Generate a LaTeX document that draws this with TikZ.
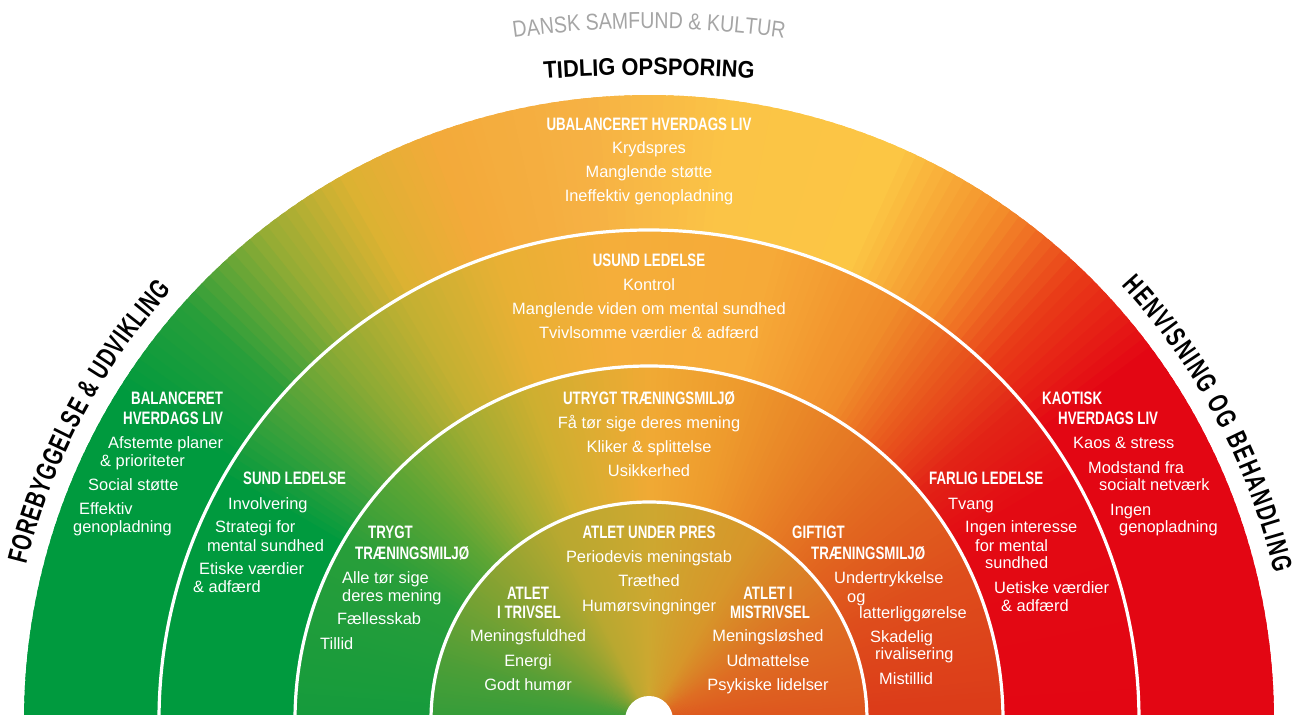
\documentclass[tikz,border=0pt]{standalone}
\usepackage{fontspec}
\setmainfont{Liberation Sans}
\newfontfamily\hdfont{Liberation Sans}[FakeStretch=0.74]
\newfontfamily\ttlfont{Liberation Sans}[FakeStretch=0.91]
\newfontfamily\grfont{Liberation Sans}[FakeStretch=0.85]
\newfontfamily\sdfont{Liberation Sans}[FakeStretch=0.70]
\usetikzlibrary{calc,decorations.text}
% outer band
\definecolor{oa}{RGB}{227,6,19}
\definecolor{ob}{RGB}{227,6,19}
\definecolor{oc}{RGB}{233,60,24}
\definecolor{od}{RGB}{243,140,42}
\definecolor{oe}{RGB}{252,198,68}
\definecolor{of}{RGB}{251,196,70}
\definecolor{og}{RGB}{246,177,68}
\definecolor{oh}{RGB}{243,170,58}
\definecolor{oi}{RGB}{220,178,50}
\definecolor{oj}{RGB}{150,172,52}
\definecolor{ok}{RGB}{40,158,58}
\definecolor{ol}{RGB}{0,154,62}
\definecolor{om}{RGB}{0,154,62}
% middle band
\definecolor{ma}{RGB}{227,6,19}
\definecolor{mb}{RGB}{227,10,19}
\definecolor{mc}{RGB}{226,35,22}
\definecolor{md}{RGB}{233,90,30}
\definecolor{me}{RGB}{240,140,42}
\definecolor{mf}{RGB}{246,170,56}
\definecolor{mg}{RGB}{245,174,58}
\definecolor{mh}{RGB}{232,176,52}
\definecolor{mi}{RGB}{195,176,50}
\definecolor{mj}{RGB}{140,170,52}
\definecolor{mk}{RGB}{70,162,58}
\definecolor{ml}{RGB}{0,154,62}
\definecolor{mm}{RGB}{0,154,62}
% third band
\definecolor{ta}{RGB}{220,58,25}
\definecolor{tb}{RGB}{222,78,28}
\definecolor{tc}{RGB}{226,105,32}
\definecolor{td}{RGB}{232,130,38}
\definecolor{te}{RGB}{238,155,45}
\definecolor{tf}{RGB}{240,170,52}
\definecolor{tg}{RGB}{205,175,48}
\definecolor{th}{RGB}{160,172,50}
\definecolor{ti}{RGB}{95,165,52}
\definecolor{tj}{RGB}{40,158,58}
\definecolor{tk}{RGB}{20,155,60}
% inner disc
\definecolor{ua}{RGB}{222,85,30}
\definecolor{ub}{RGB}{222,110,35}
\definecolor{uc}{RGB}{215,150,42}
\definecolor{ud}{RGB}{205,168,48}
\definecolor{ue}{RGB}{185,168,48}
\definecolor{uf}{RGB}{130,162,50}
\definecolor{ug}{RGB}{75,158,55}
\definecolor{uh}{RGB}{50,157,58}
\definecolor{grtxt}{RGB}{165,165,165}
\newcommand\ringband[2]{%
  \foreach \sa/\sb/\ca/\cb in {#2}{%
    \pgfmathtruncatemacro\bend{\sb-1}%
    \foreach \t in {\sa,...,\bend}{%
      \pgfmathtruncatemacro\mypct{round(100*(\sb-\t)/(\sb-\sa))}%
      \fill[fill=\ca!\mypct!\cb] (C) -- ++(\t-0.3:#1) arc[start angle=\t-0.3, end angle=\t+1.3, radius=#1] -- cycle;
    }%
  }%
}
\begin{document}
\begin{tikzpicture}[x=1pt,y=1pt,
  hd/.style={font=\hdfont\bfseries\fontsize{18}{20}\selectfont, text=white, inner sep=0pt, text height=13pt, text depth=0pt},
  bd/.style={font=\fontsize{16.4}{19}\selectfont, text=white, inner sep=0pt, text height=11.7pt, text depth=0pt},
  ringline/.style={draw=white, line width=3.2pt}]
\useasboundingbox (0,0) rectangle (1294,715);
\clip (0,0) rectangle (1294,715);
\coordinate (C) at (649,-5);
% colour bands
\ringband{625}{0/36/oa/ob, 36/46/ob/oc, 46/55/oc/od, 55/66/od/oe, 66/82/oe/of, 82/96/of/og, 96/110/og/oh, 110/119/oh/oi, 119/128/oi/oj, 128/138/oj/ok, 138/148/ok/ol, 148/181/ol/om}
\ringband{490}{0/30/ma/mb, 30/40/mb/mc, 40/50/mc/md, 50/59/md/me, 59/75/me/mf, 75/95/mf/mg, 95/108/mg/mh, 108/120/mh/mi, 120/130/mi/mj, 130/140/mj/mk, 140/150/mk/ml, 150/181/ml/mm}
\ringband{354}{0/25/ta/tb, 25/45/tb/tc, 45/60/tc/td, 60/75/td/te, 75/90/te/tf, 90/110/tf/tg, 110/122/tg/th, 122/135/th/ti, 135/150/ti/tj, 150/181/tj/tk}
\ringband{218}{0/30/ua/ub, 30/60/ub/uc, 60/90/uc/ud, 90/115/ud/ue, 115/140/ue/uf, 140/165/uf/ug, 165/181/ug/uh}
% white ring lines
\draw[ringline] (C) circle[radius=490];
\draw[ringline] (C) circle[radius=354];
\draw[ringline] (C) circle[radius=218];
\fill[white] (C) circle[radius=24];
% curved titles
\path[decorate, decoration={text along path, text color=grtxt, text align=center,
  text={|\grfont\fontsize{23}{25}\selectfont|DANSK SAMFUND {\&} KULTUR}}]
  ($(649,-293.5)+(100:980)$) arc[start angle=100, end angle=80, radius=980];
\path[decorate, decoration={text along path, text color=black, text align=center,
  text={|\ttlfont\bfseries\fontsize{24}{26}\selectfont|TIDLIG OPSPORING}}]
  ($(649,-738)+(97:1378)$) arc[start angle=97, end angle=83, radius=1378];
\path[decorate, decoration={text along path, text color=black, text align={fit to path},
  text={|\sdfont\bfseries\fontsize{28}{30}\selectfont|FOREBYGGELSE {\&} UDVIKLING}}]
  ($(C)+(166:642)$) arc[start angle=166, end angle=138, radius=642];
\path[decorate, decoration={text along path, text color=black, text align={fit to path},
  text={|\sdfont\bfseries\fontsize{28}{30}\selectfont|HENVISNING OG BEHANDLING}}]
  ($(C)+(42.6:642)$) arc[start angle=42.6, end angle=13.2, radius=642];
% top centre column
\node[hd] (h1) at (649,591) {UBALANCERET HVERDAGS LIV};
\node[bd] (t1a) at (649,567) {Krydspres};
\node[bd] (t1b) at (649,543) {Manglende støtte};
\node[bd] (t1c) at (649,519) {Ineffektiv genopladning};
\node[hd] (h2) at (649,455) {USUND LEDELSE};
\node[bd] (t2a) at (649,430) {Kontrol};
\node[bd] (t2b) at (649,406) {Manglende viden om mental sundhed};
\node[bd] (t2c) at (649,382) {Tvivlsomme værdier \& adfærd};
\node[hd] (h3) at (649,317) {UTRYGT TRÆNINGSMILJØ};
\node[bd] (t3a) at (649,292) {Få tør sige deres mening};
\node[bd] (t3b) at (649,268) {Kliker \& splittelse};
\node[bd] (t3c) at (649,244) {Usikkerhed};
\node[hd] (h4) at (649,183) {ATLET UNDER PRES};
\node[bd] (t4a) at (649,158) {Periodevis meningstab};
\node[bd] (t4b) at (649,134) {Træthed};
\node[bd] (t4c) at (649,109) {Humørsvingninger};
% inner left / right
\node[hd] (h5a) at (528,122) {ATLET};
\node[hd] (h5b) at (529,103) {I TRIVSEL};
\node[bd] (t5a) at (528,79) {Meningsfuldhed};
\node[bd] (t5b) at (528,54) {Energi};
\node[bd] (t5c) at (528,30) {Godt humør};
\node[hd] (h6a) at (768,122) {ATLET I};
\node[hd] (h6b) at (770,103) {MISTRIVSEL};
\node[bd] (t6a) at (768,79) {Meningsløshed};
\node[bd] (t6b) at (768,54) {Udmattelse};
\node[bd] (t6c) at (768,30) {Psykiske lidelser};
% outer left
\node[hd, anchor=west] (h7a) at (131,317) {BALANCERET};
\node[hd, anchor=west] (h7b) at (123,297) {HVERDAGS LIV};
\node[bd, anchor=west] (t7a) at (108,272) {Afstemte planer};
\node[bd, anchor=west] (t7b) at (100,254) {\& prioriteter};
\node[bd, anchor=west] (t7c) at (88,230) {Social støtte};
\node[bd, anchor=west] (t7d) at (79,206) {Effektiv};
\node[bd, anchor=west] (t7e) at (73,188) {genopladning};
% third band left
\node[hd, anchor=west] (h8) at (243,237) {SUND LEDELSE};
\node[bd, anchor=west] (t8a) at (228,211) {Involvering};
\node[bd, anchor=west] (t8b) at (215,188) {Strategi for};
\node[bd, anchor=west] (t8c) at (207,169) {mental sundhed};
\node[bd, anchor=west] (t8d) at (199,146) {Etiske værdier};
\node[bd, anchor=west] (t8e) at (193,128) {\& adfærd};
% second band left
\node[hd, anchor=west] (h9a) at (368,183) {TRYGT};
\node[hd, anchor=west] (h9b) at (355,162) {TRÆNINGSMILJØ};
\node[bd, anchor=west] (t9a) at (342,137) {Alle tør sige};
\node[bd, anchor=west] (t9b) at (342,119) {deres mening};
\node[bd, anchor=west] (t9c) at (337,96) {Fællesskab};
\node[bd, anchor=west] (t9d) at (320,71) {Tillid};
% second band right
\node[hd, anchor=west] (h10a) at (792,183) {GIFTIGT};
\node[hd, anchor=west] (h10b) at (811,162) {TRÆNINGSMILJØ};
\node[bd, anchor=west] (t10a) at (834,137) {Undertrykkelse};
\node[bd, anchor=west] (t10b) at (847,118) {og};
\node[bd, anchor=west] (t10c) at (859,102) {latterliggørelse};
\node[bd, anchor=west] (t10d) at (870,78) {Skadelig};
\node[bd, anchor=west] (t10e) at (875,61) {rivalisering};
\node[bd, anchor=west] (t10f) at (879,36) {Mistillid};
% third band right
\node[hd, anchor=west] (h11) at (929,237) {FARLIG LEDELSE};
\node[bd, anchor=west] (t11a) at (948,211) {Tvang};
\node[bd, anchor=west] (t11b) at (965,188) {Ingen interesse};
\node[bd, anchor=west] (t11c) at (975,169) {for mental};
\node[bd, anchor=west] (t11d) at (985,152) {sundhed};
\node[bd, anchor=west] (t11e) at (994,127) {Uetiske værdier};
\node[bd, anchor=west] (t11f) at (1001,109) {\& adfærd};
% outer right
\node[hd, anchor=west] (h12a) at (1042,317) {KAOTISK};
\node[hd, anchor=west] (h12b) at (1058,297) {HVERDAGS LIV};
\node[bd, anchor=west] (t12a) at (1073,272) {Kaos \& stress};
\node[bd, anchor=west] (t12b) at (1088,247) {Modstand fra};
\node[bd, anchor=west] (t12c) at (1099,230) {socialt netværk};
\node[bd, anchor=west] (t12d) at (1110,205) {Ingen};
\node[bd, anchor=west] (t12e) at (1119,188) {genopladning};
\end{tikzpicture}
\end{document}
